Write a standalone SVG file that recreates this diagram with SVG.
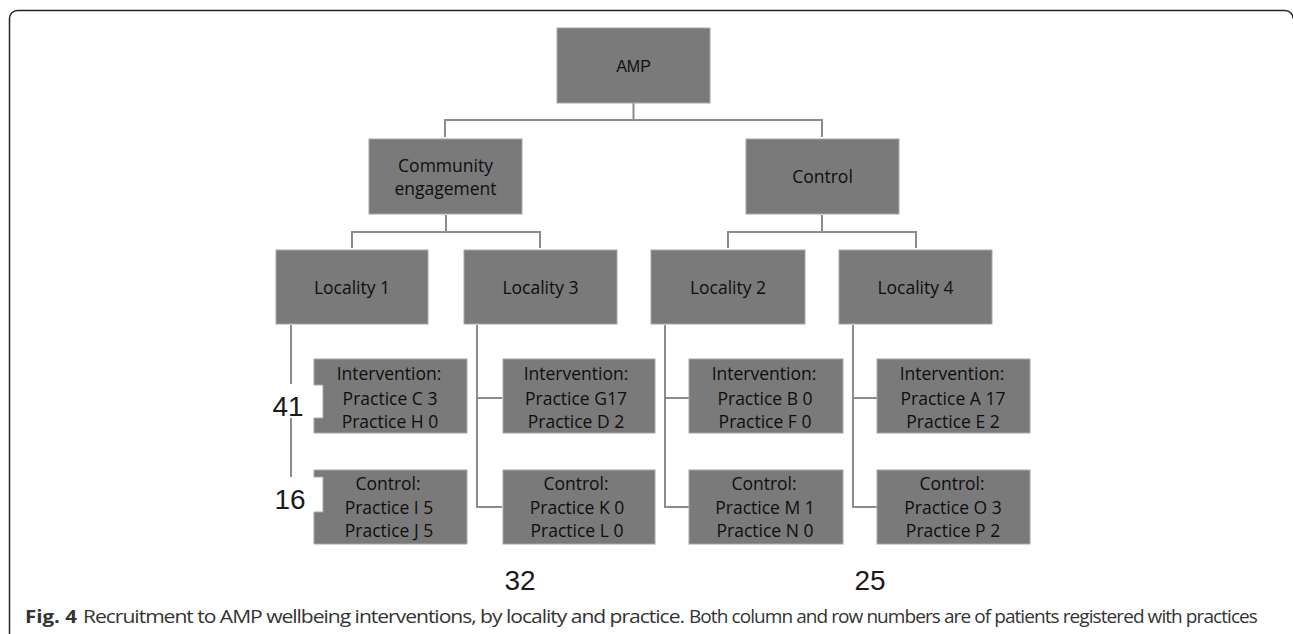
<svg xmlns="http://www.w3.org/2000/svg" width="1293" height="634" viewBox="0 0 1293 634">
<style>
.box{fill:#7a7a7a;stroke:#a6a6a6;stroke-width:1}
.t{font-family:"Open Sans","DejaVu Sans",sans-serif;font-size:17.5px;fill:#0e0e0e;text-anchor:middle}
.amp{font-family:"Liberation Sans",Arial,sans-serif;font-size:16px;fill:#111;text-anchor:middle}
.num{font-family:"Liberation Sans",Arial,sans-serif;font-size:28px;fill:#1a1a1a;text-anchor:middle}
.ln{fill:none;stroke:#8c8c8c;stroke-width:2}
.cap{font-family:"Open Sans","DejaVu Sans",sans-serif;font-size:18.5px;fill:#333;letter-spacing:-0.9px}
</style>
<rect width="1293" height="634" fill="#ffffff"/>
<path d="M9.5 634 V18.5 A8 8 0 0 1 17.5 10.5 H1285 A8 8 0 0 1 1293 18.5" fill="none" stroke="#222" stroke-width="1.5"/>

<g id="connectors">
  <path class="ln" d="M633.5 103 V120 M445 137 V120 H822 V137"/>
  <path class="ln" d="M446 215 V232 M352 248 V232 H540 V248"/>
  <path class="ln" d="M822 215 V232 M728 248 V232 H916 V248"/>
  <path class="ln" d="M291 325 V384 M291 418 V477"/>
  <path class="ln" d="M477 325 V507 H502 M477 398 H502"/>
  <path class="ln" d="M665 325 V507 H689 M665 398 H689"/>
  <path class="ln" d="M853 325 V507 H877 M853 398 H877"/>
</g>

<g id="amp">
  <rect class="box" x="557" y="28" width="153" height="75"/>
  <text class="amp" x="633.5" y="71.5">AMP</text>
</g>
<g id="community">
  <rect class="box" x="369" y="139" width="153" height="75"/>
  <text class="t" x="445.5" y="171.5">Community</text>
  <text class="t" x="445.5" y="195">engagement</text>
</g>
<g id="control">
  <rect class="box" x="746" y="139" width="153" height="75"/>
  <text class="t" x="822.5" y="183">Control</text>
</g>
<g id="locality1">
  <rect class="box" x="276" y="250" width="152" height="74"/>
  <text class="t" x="352" y="294">Locality 1</text>
</g>
<g id="locality3">
  <rect class="box" x="464" y="250" width="153" height="74"/>
  <text class="t" x="540.5" y="294">Locality 3</text>
</g>
<g id="locality2">
  <rect class="box" x="651" y="250" width="154" height="74"/>
  <text class="t" x="728" y="294">Locality 2</text>
</g>
<g id="locality4">
  <rect class="box" x="839" y="250" width="153" height="74"/>
  <text class="t" x="915.5" y="294">Locality 4</text>
</g>

<g id="int1">
  <path class="box" d="M314 359 H467 V433 H314 V418 H323 V385 H314 Z"/>
  <text class="t" x="389" y="380">Intervention:</text>
  <text class="t" x="390" y="404.5">Practice C 3</text>
  <text class="t" x="390" y="428">Practice H 0</text>
</g>
<g id="ctl1">
  <path class="box" d="M314 470 H467 V544 H314 V512 H323 V477 H314 Z"/>
  <text class="t" x="388" y="489.5">Control:</text>
  <text class="t" x="389" y="513.5">Practice I 5</text>
  <text class="t" x="389" y="537">Practice J 5</text>
</g>
<g id="int3">
  <rect class="box" x="503" y="359" width="152" height="74"/>
  <text class="t" x="576" y="380">Intervention:</text>
  <text class="t" x="576" y="404.5">Practice G17</text>
  <text class="t" x="576" y="428">Practice D 2</text>
</g>
<g id="ctl3">
  <rect class="box" x="503" y="470" width="152" height="74"/>
  <text class="t" x="576" y="489.5">Control:</text>
  <text class="t" x="577" y="513.5">Practice K 0</text>
  <text class="t" x="577" y="537">Practice L 0</text>
</g>
<g id="int2">
  <rect class="box" x="689" y="359" width="154" height="74"/>
  <text class="t" x="764" y="380">Intervention:</text>
  <text class="t" x="765" y="404.5">Practice B 0</text>
  <text class="t" x="765" y="428">Practice F 0</text>
</g>
<g id="ctl2">
  <rect class="box" x="689" y="470" width="154" height="74"/>
  <text class="t" x="764" y="489.5">Control:</text>
  <text class="t" x="765" y="513.5">Practice M 1</text>
  <text class="t" x="765" y="537">Practice N 0</text>
</g>
<g id="int4">
  <rect class="box" x="877" y="359" width="153" height="74"/>
  <text class="t" x="952" y="380">Intervention:</text>
  <text class="t" x="953" y="404.5">Practice A 17</text>
  <text class="t" x="953" y="428">Practice E 2</text>
</g>
<g id="ctl4">
  <rect class="box" x="877" y="470" width="153" height="74"/>
  <text class="t" x="952" y="489.5">Control:</text>
  <text class="t" x="953" y="513.5">Practice O 3</text>
  <text class="t" x="953" y="537">Practice P 2</text>
</g>

<g id="totals">
  <text class="num" x="288" y="416">41</text>
  <text class="num" x="290" y="509">16</text>
  <text class="num" x="520" y="590">32</text>
  <text class="num" x="870" y="590">25</text>
</g>

<g id="caption">
  <text class="cap" x="25" y="623" font-weight="bold" fill="#222" style="letter-spacing:0" textLength="52" lengthAdjust="spacingAndGlyphs">Fig. 4</text>
  <text class="cap" x="83" y="623" textLength="601" lengthAdjust="spacingAndGlyphs">Recruitment to AMP wellbeing interventions, by locality and practice.</text>
  <text class="cap" x="689" y="623" textLength="568" lengthAdjust="spacingAndGlyphs">Both column and row numbers are of patients registered with practices</text>
</g>
</svg>
